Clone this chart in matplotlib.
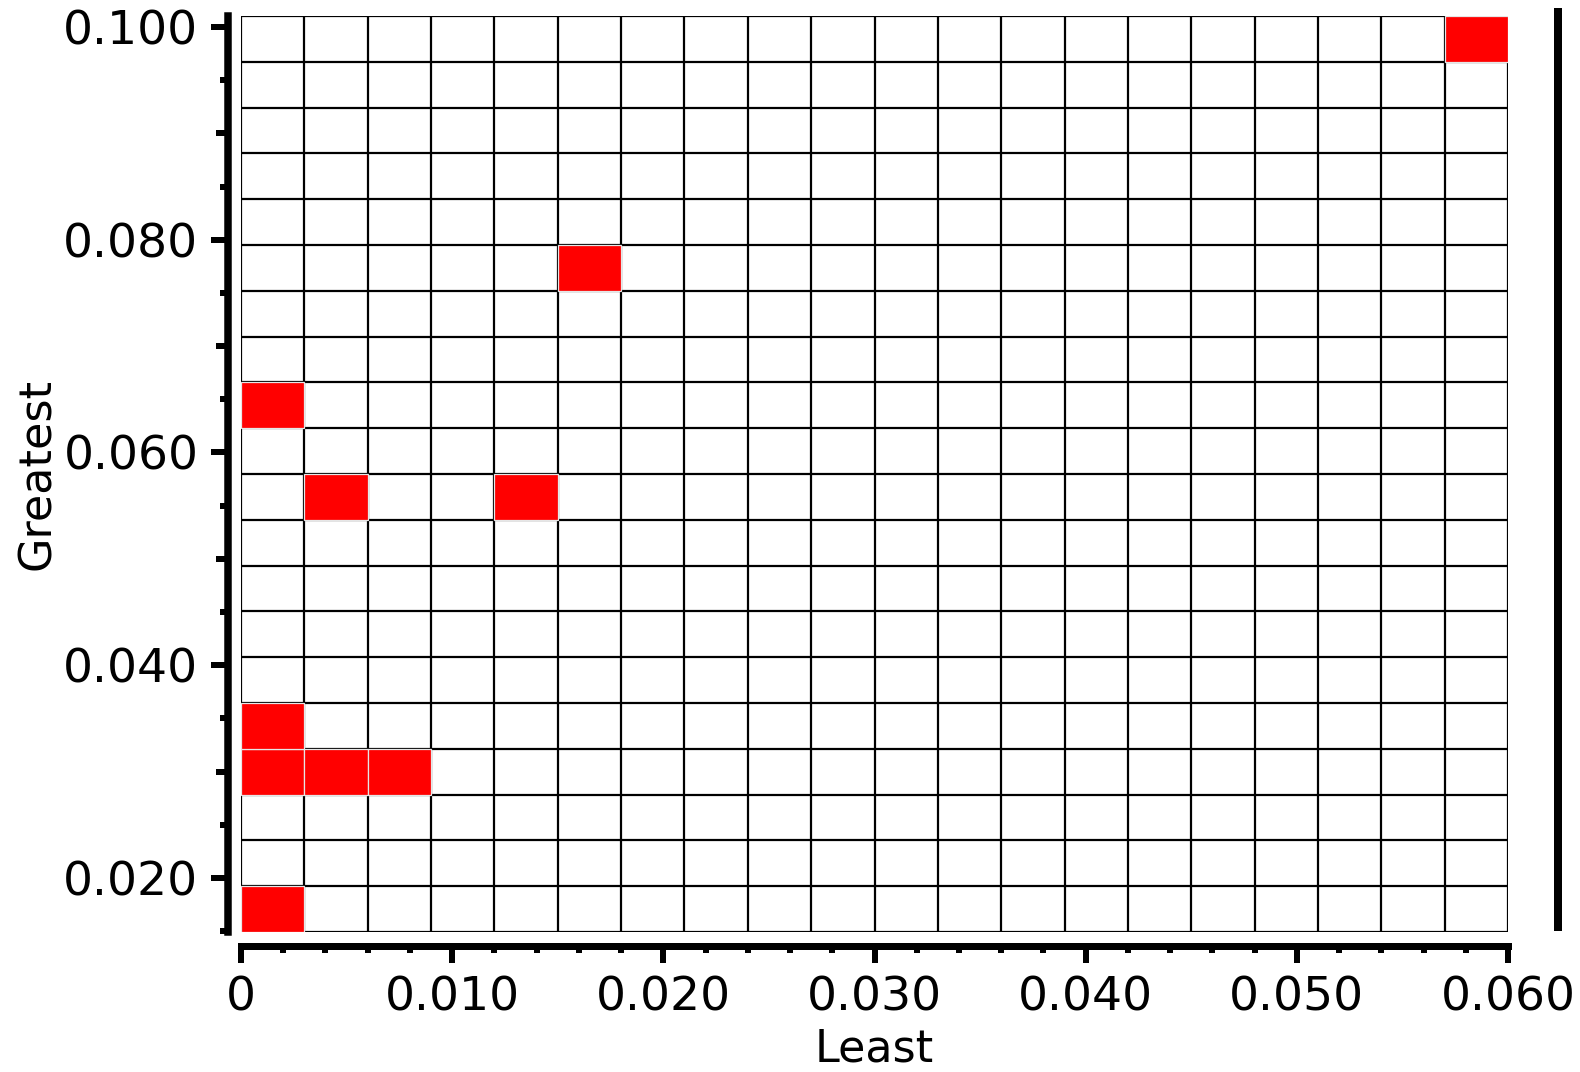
import numpy as np
import matplotlib
matplotlib.use("Agg")
import matplotlib.pyplot as plt
from matplotlib.ticker import MultipleLocator, FuncFormatter, FixedLocator
from matplotlib.patches import Rectangle

# ---- data ----
least = [0.0000, 0.0012, 0.0045, 0.0075, 0.0015, 0.0045, 0.0135, 0.0010, 0.0165, 0.0600]
greatest = [0.01492, 0.0300, 0.0300, 0.0300, 0.0345, 0.0560, 0.0560, 0.0650, 0.0780, 0.10103]
n_bins = 20
x_label = "Least"
y_label = "Greatest"
y_major_ticks = [0.02, 0.04, 0.06, 0.08, 0.10]
y_medium_ticks = [0.03, 0.05, 0.07, 0.09]

plt.rcParams['font.family'] = ['DejaVu Sans']

fig = plt.figure(figsize=(15.8, 10.72), dpi=100)
W, H = 1580, 1072
PX = 72 / 100  # points per pixel
ax_l, ax_r, ax_t, ax_b = 241, 1508, 16, 932
ax = fig.add_axes([ax_l / W, 1 - ax_b / H, (ax_r - ax_l) / W, (ax_b - ax_t) / H])

x = np.asarray(least)
y = np.asarray(greatest)
x_edges = np.linspace(x.min(), x.max(), n_bins + 1)
y_edges = np.linspace(y.min(), y.max(), n_bins + 1)
counts, _, _ = np.histogram2d(x, y, bins=[x_edges, y_edges])
counts = counts.T

# grid lines at the bin edges
ax.vlines(x_edges, y_edges[0], y_edges[-1], colors='black', linewidth=1.6, zorder=2)
ax.hlines(y_edges, x_edges[0], x_edges[-1], colors='black', linewidth=1.6, zorder=2)
# red occupied cells on top
for j, i in zip(*np.nonzero(counts)):
    ax.add_patch(Rectangle((x_edges[i], y_edges[j]), x_edges[i + 1] - x_edges[i],
                           y_edges[j + 1] - y_edges[j], facecolor='#ff0000',
                           edgecolor='#e6e6e6', linewidth=0.9, zorder=3))

ax.set_xlim(x_edges[0], x_edges[-1])
ax.set_ylim(y_edges[0], y_edges[-1])

for s in ['top', 'right']:
    ax.spines[s].set_visible(False)
ax.spines['left'].set_position(('outward', 13 * PX))
ax.spines['bottom'].set_position(('outward', 14 * PX))
ax.spines['left'].set_linewidth(7.5 * PX)
ax.spines['bottom'].set_linewidth(7 * PX)

# x ticks
ax.xaxis.set_major_locator(MultipleLocator(0.01))
ax.xaxis.set_minor_locator(MultipleLocator(0.002))
ax.xaxis.set_major_formatter(FuncFormatter(lambda v, p: '0' if abs(v) < 1e-12 else f'{v:.3f}'))

# y ticks
ax.yaxis.set_major_locator(FixedLocator(y_major_ticks))
ax.yaxis.set_minor_locator(MultipleLocator(0.005))
ax.yaxis.set_major_formatter(FuncFormatter(lambda v, p: f'{v:.3f}'))

ax.tick_params(axis='both', which='major', direction='out', length=17 * PX, width=6 * PX,
               labelsize=34, color='black')
ax.tick_params(axis='x', which='major', pad=9)
ax.tick_params(axis='y', which='major', pad=9)
ax.tick_params(axis='x', which='minor', direction='out', length=7 * PX, width=6 * PX)
ax.tick_params(axis='y', which='minor', direction='out', length=8 * PX, width=6 * PX)

# medium-length ticks on y (secondary axis sitting on the left spine)
sec = ax.secondary_yaxis(-13 / (ax_r - ax_l))
sec.set_yticks(y_medium_ticks)
sec.tick_params(axis='y', which='major', direction='out', length=12 * PX, width=6 * PX,
                labelleft=False)
sec.tick_params(axis='y', which='minor', left=False)
for s in sec.spines.values():
    s.set_visible(False)

ax.set_xlabel(x_label, fontsize=32, va='baseline')
ax.xaxis.set_label_coords(0.5, (11 - (H - ax_b)) / (ax_b - ax_t))
ax.set_ylabel(y_label, fontsize=32, va='baseline')
ax.yaxis.set_label_coords((50 - ax_l) / (ax_r - ax_l), 0.5)

# thick black bar on the right
bar = fig.add_axes([1554 / W, 1 - 931 / H, 8 / W, (931 - 8) / H])
bar.set_facecolor('black')
bar.set_xticks([])
bar.set_yticks([])
for s in bar.spines.values():
    s.set_visible(False)

fig.savefig('out.png', dpi=100)
